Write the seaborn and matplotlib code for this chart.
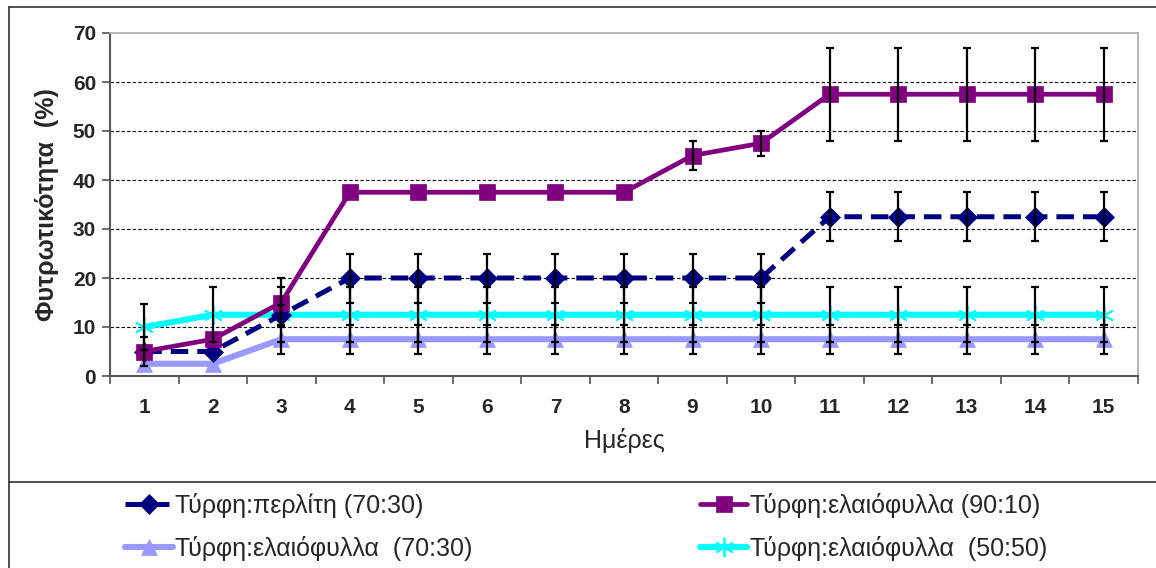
import matplotlib
matplotlib.use("Agg")
import matplotlib.pyplot as plt
from matplotlib.lines import Line2D
import numpy as np
import pandas as pd
import seaborn as sns

# ---- data -------------------------------------------------------------
days = list(range(1, 16))

labels = [
    "Τύρφη:περλίτη (70:30)",
    "Τύρφη:ελαιόφυλλα (90:10)",
    "Τύρφη:ελαιόφυλλα  (70:30)",
    "Τύρφη:ελαιόφυλλα  (50:50)",
]

perlite_70_30 = [5, 5, 12.5, 20, 20, 20, 20, 20, 20, 20, 32.5, 32.5, 32.5, 32.5, 32.5]
perlite_70_30_err = [0, 0, 2, 5, 5, 5, 5, 5, 5, 5, 5, 5, 5, 5, 5]

olive_90_10 = [5, 7.5, 15, 37.5, 37.5, 37.5, 37.5, 37.5, 45, 47.5, 57.5, 57.5, 57.5, 57.5, 57.5]
olive_90_10_err = [3, 0, 5, 0, 0, 0, 0, 0, 3, 2.5, 9.5, 9.5, 9.5, 9.5, 9.5]

olive_70_30 = [2.5, 2.5, 7.5, 7.5, 7.5, 7.5, 7.5, 7.5, 7.5, 7.5, 7.5, 7.5, 7.5, 7.5, 7.5]
olive_70_30_err = [0, 0, 3, 3, 3, 3, 3, 3, 3, 3, 3, 3, 3, 3, 3]

olive_50_50 = [10, 12.5, 12.5, 12.5, 12.5, 12.5, 12.5, 12.5, 12.5, 12.5, 12.5, 12.5, 12.5, 12.5, 12.5]
olive_50_50_err = [4.6, 5.6, 5.6, 5.6, 5.6, 5.6, 5.6, 5.6, 5.6, 5.6, 5.6, 5.6, 5.6, 5.6, 5.6]

y_ticks = [0, 10, 20, 30, 40, 50, 60, 70]

values = [perlite_70_30, olive_90_10, olive_70_30, olive_50_50]
errors = [perlite_70_30_err, olive_90_10_err, olive_70_30_err, olive_50_50_err]

df = pd.DataFrame({
    "day": np.tile(days, len(labels)),
    "value": np.concatenate(values),
    "err": np.concatenate(errors),
    "series": np.repeat(labels, len(days)),
})

# ---- styles -----------------------------------------------------------
styles = {
    labels[0]: dict(color="#000080", marker="D", ms=10, lw=3.6, ls=(0, (3.5, 1.8)), z=4),
    labels[1]: dict(color="#800080", marker="s", ms=11, lw=3.4, ls="-", z=5),
    labels[2]: dict(color="#9999FF", marker="^", ms=12, lw=4.4, ls="-", z=3),
    labels[3]: dict(color="#00FFFF", marker=(6, 2, 0), ms=14, lw=4.4, ls="-", z=3),
}


def edge_width(marker):
    return 1.3 if marker == (6, 2, 0) else 0.5


sns.set_style("white")
plt.rcParams["font.family"] = ["Liberation Sans", "DejaVu Sans"]

fig = plt.figure(figsize=(11.56, 5.68), dpi=100)
ax = fig.add_axes([110 / 1156, 1 - 376 / 568, 1028 / 1156, 343 / 568])

for name in labels:
    st = styles[name]
    sub = df[df["series"] == name]
    sns.lineplot(
        data=sub, x="day", y="value", ax=ax, color=st["color"],
        marker=st["marker"], markersize=st["ms"], linewidth=st["lw"],
        linestyle=st["ls"], markeredgecolor=st["color"],
        markeredgewidth=edge_width(st["marker"]),
        zorder=st["z"], legend=False, errorbar=None,
    )

# error bars on top of the lines
for name in labels:
    sub = df[df["series"] == name]
    mask = sub["err"] > 0
    ax.errorbar(sub["day"][mask], sub["value"][mask], yerr=sub["err"][mask],
                fmt="none", ecolor="black", elinewidth=1.6, capsize=3,
                capthick=1.6, zorder=6)

# ---- axes -------------------------------------------------------------
ax.set_xlim(0.5, 15.5)
ax.set_ylim(0, 70)
ax.set_yticks(y_ticks, labels=[str(v) for v in y_ticks],
              fontsize=15, fontweight="bold")
ax.set_xticks(days, labels=[str(d) for d in days],
              fontsize=15, fontweight="bold")
ax.set_xticks(np.arange(0.5, 16, 1), minor=True)
ax.tick_params(axis="x", which="major", length=0, pad=16)
ax.tick_params(axis="x", which="minor", length=6, width=1.2, color="#555555",
               direction="out", bottom=True)
ax.tick_params(axis="y", length=6, width=1.2, color="#555555", direction="out",
               left=True, pad=4)

for y in y_ticks[1:-1]:
    ax.axhline(y, color="black", lw=0.8, ls=(0, (3, 2)), zorder=1)

for side in ["left", "bottom"]:
    ax.spines[side].set_color("#555555")
    ax.spines[side].set_linewidth(1.5)
for side in ["top", "right"]:
    ax.spines[side].set_color("#b0b0b0")
    ax.spines[side].set_linewidth(1.3)

ax.set_xlabel("Ημέρες", fontsize=18, labelpad=8)
ax.set_ylabel("Φυτρωτικότητα  (%)", fontsize=18, fontweight="bold", labelpad=10)

# ---- outer frame ------------------------------------------------------
W, H = 1156, 568
frame = dict(color="#333333", lw=1.2, transform=fig.transFigure)
fig.add_artist(Line2D([9 / W, 1], [1 - 7 / H, 1 - 7 / H], **frame))
fig.add_artist(Line2D([9 / W, 9 / W], [0, 1 - 7 / H], **frame))
fig.add_artist(Line2D([9 / W, 1], [1 - 482 / H, 1 - 482 / H], **frame))

# ---- legend -----------------------------------------------------------
order = [labels[0], labels[2], labels[1], labels[3]]
handles = []
for name in order:
    st = styles[name]
    handles.append(Line2D([0], [0], color=st["color"], lw=st["lw"], ls=st["ls"],
                          marker=st["marker"], markersize=st["ms"],
                          markeredgecolor=st["color"],
                          markeredgewidth=edge_width(st["marker"])))
fig.legend(handles, order, loc="upper left",
           bbox_to_anchor=(125 / W, 1 - 493 / H), ncol=2, frameon=False,
           fontsize=18, handlelength=1.9, handletextpad=0.1,
           labelspacing=0.72, columnspacing=9.1, borderpad=0, borderaxespad=0)

fig.savefig("out.png", dpi=100)
